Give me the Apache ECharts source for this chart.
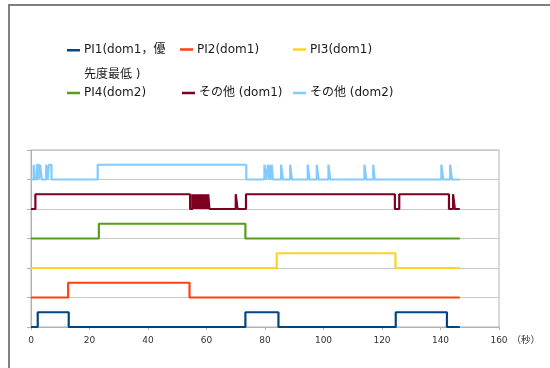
<!DOCTYPE html>
<html>
<head>
<meta charset="utf-8">
<script src="https://cdn.jsdelivr.net/npm/echarts@6/dist/echarts.min.js"></script>
<style>html,body{margin:0;padding:0;background:#fff;}#c{width:550px;height:368px;}</style>
</head>
<body>
<div id="c"></div>
<script>
// Series names (legend order)
const seriesNames = ['PI1(dom1，優先度最低 )', 'PI2(dom1)', 'PI3(dom1)', 'PI4(dom2)', 'その他 (dom1)', 'その他 (dom2)'];
const xTicks = [0, 20, 40, 60, 80, 100, 120, 140, 160];

// [time (s), state 0/1]
const pi1 = [[0,0],[2.3,1],[12.9,0],[73.3,1],[84.6,0],[124.7,1],[142.2,0],[146.6,0]];
const pi2 = [[0,0],[12.7,1],[54.2,0],[146.6,0]];
const pi3 = [[0,0],[84.0,1],[124.6,0],[146.6,0]];
const pi4 = [[0,0],[23.2,1],[73.3,0],[146.6,0]];
const otherDom1 = [[0,0],[1.5,1],[54.4,0],[55.2,1],[55.6,0],[55.9,1],[56.3,0],[56.5,1],[57.0,0],[57.2,1],[57.6,0],[57.8,1],[58.4,0],[58.6,1],[59.0,0],[59.2,1],[59.7,0],[59.9,1],[60.4,0],[60.6,1],[61.0,0],[70.0,1],[70.6,0],[73.5,1],[124.4,0],[125.9,1],[142.9,0],[144.3,1],[144.9,0],[146.6,0]];
const otherDom2 = [[0,0],[0.9,1],[1.3,0],[2.0,1],[2.7,0],[3.1,1],[3.7,0],[5.2,1],[5.7,0],[6.1,1],[7.0,0],[22.8,1],[73.6,0],[79.8,1],[80.4,0],[81.0,1],[81.4,0],[81.7,1],[82.0,0],[82.3,1],[82.7,0],[85.5,1],[86.1,0],[88.6,1],[89.2,0],[94.6,1],[95.2,0],[97.7,1],[98.3,0],[101.7,1],[102.3,0],[114.0,1],[114.6,0],[117.0,1],[117.5,0],[140.3,1],[140.9,0],[143.3,1],[143.9,0],[146.6,0]];

const allData = [pi1, pi2, pi3, pi4, otherDom1, otherDom2];
const colors = ['#004586', '#ff420e', '#ffd320', '#579d1c', '#7e0021', '#83caff'];
const FONT = "'DejaVu Sans', 'Noto Sans CJK JP', sans-serif";

const chart = echarts.init(document.getElementById('c'), null, {renderer: 'canvas'});

const legendPos = [
  {left: 67, top: 13.5, fmt: '\nPI1(dom1，優\n先度最低 )', lh: 24.5},
  {left: 180, top: 42.5},
  {left: 293, top: 42.5},
  {left: 67, top: 86},
  {left: 182, top: 86},
  {left: 293, top: 86}
];
const legends = legendPos.map((p, i) => ({
  left: p.left, top: p.top, padding: 0, orient: 'horizontal',
  icon: 'rect', itemWidth: 13, itemHeight: 2.5,
  data: [seriesNames[i]],
  formatter: p.fmt ? (() => p.fmt) : (n => n),
  textStyle: {fontFamily: FONT, fontSize: 12, color: '#1a1a1a', lineHeight: p.lh || 14, padding: [0, 0, 0, -1]}
}));

chart.setOption({
  animation: false,
  color: colors,
  legend: legends,
  grid: {left: 31, right: 51, top: 150, bottom: 41, show: true, borderColor: '#b3b3b3', borderWidth: 1, containLabel: false},
  xAxis: {
    type: 'value', min: 0, max: 160, interval: 20,
    name: '（秒）', nameLocation: 'end', nameGap: 5,
    nameTextStyle: {fontFamily: FONT, fontSize: 9.5, color: '#333', verticalAlign: 'top', padding: [9, 0, 0, 0]},
    axisLine: {lineStyle: {color: '#b3b3b3', width: 1}},
    axisTick: {show: true, length: 3, lineStyle: {color: '#b3b3b3'}},
    splitLine: {show: false},
    axisLabel: {fontFamily: FONT, fontSize: 9, color: '#333', margin: 9, formatter: v => xTicks.indexOf(v) >= 0 ? String(v) : ''}
  },
  yAxis: {
    type: 'value', min: 0, max: 12, interval: 2,
    axisLine: {show: true, lineStyle: {color: '#b3b3b3', width: 1}},
    axisTick: {show: true, length: 4, lineStyle: {color: '#b3b3b3'}},
    axisLabel: {show: false},
    splitLine: {show: true, lineStyle: {color: '#c8c8c8', width: 1}}
  },
  graphic: [{
    type: 'rect', silent: true,
    shape: {x: 9, y: 5, width: 700, height: 500},
    style: {fill: 'none', stroke: '#7f7f7f', lineWidth: 2}
  }],
  series: allData.map((d, i) => ({
    name: seriesNames[i],
    type: 'line',
    step: 'end',
    showSymbol: false,
    lineStyle: {width: 2.2, color: colors[i]},
    itemStyle: {color: colors[i]},
    data: d.map(p => [p[0], p[1] + i * 2])
  }))
});
</script>
</body>
</html>
